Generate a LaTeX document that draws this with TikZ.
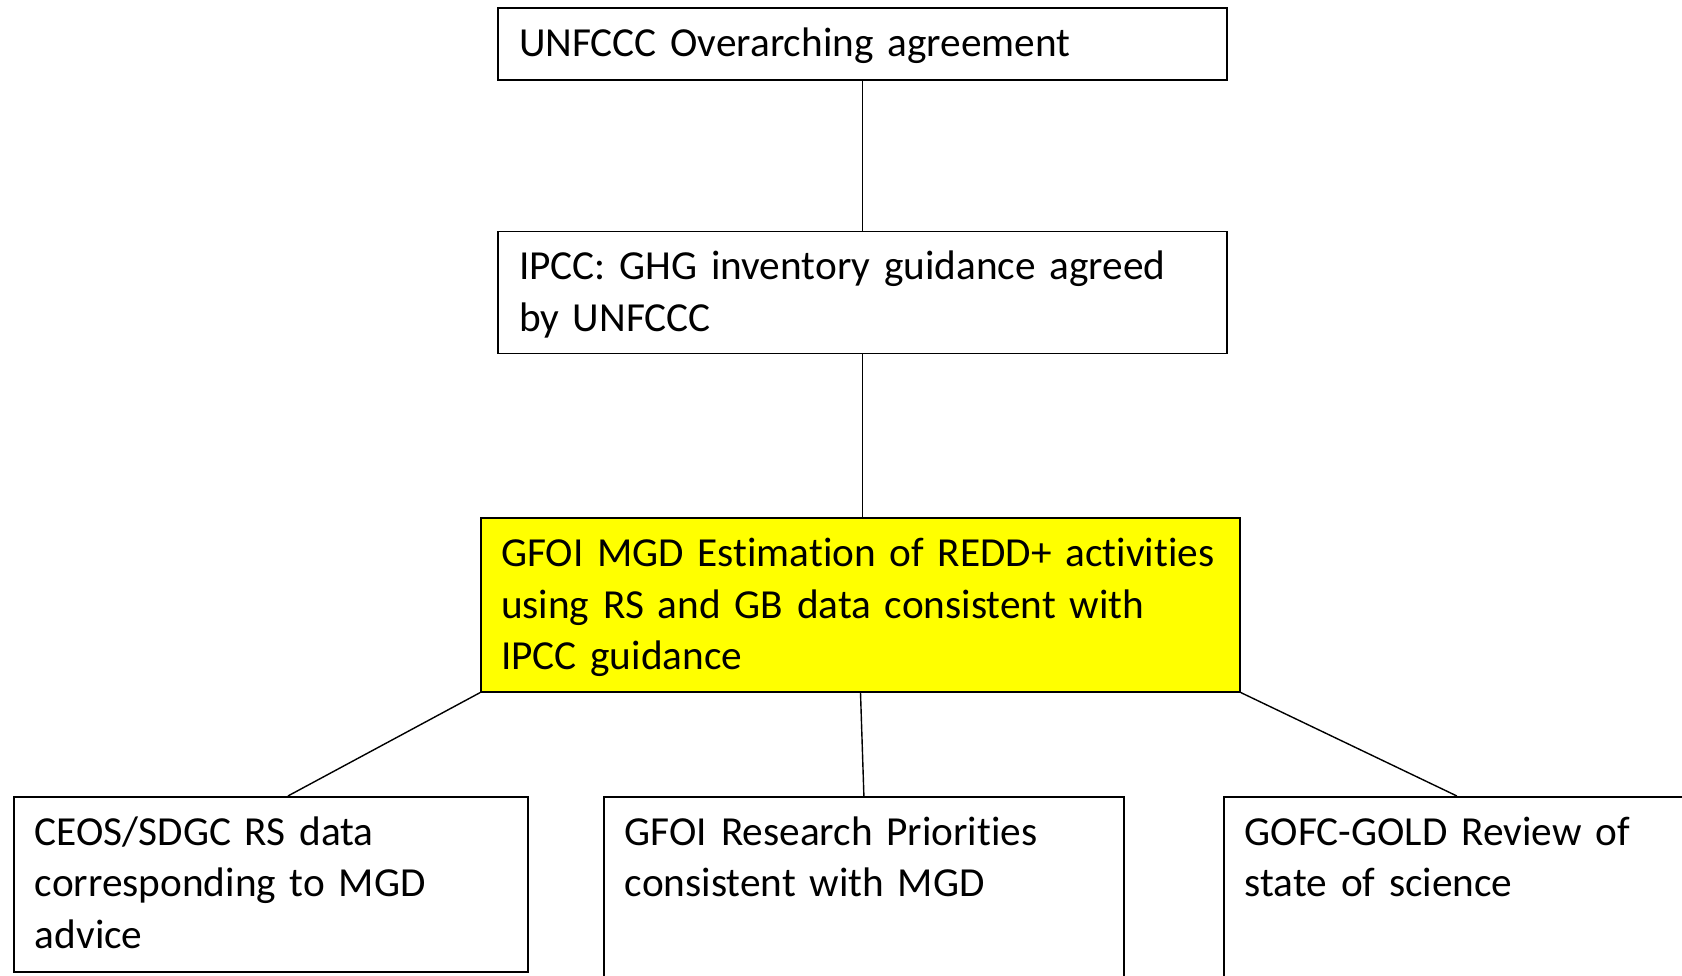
\documentclass[tikz,border=0pt]{standalone}
\usepackage{fontspec}
\setmainfont{Carlito}[Ligatures=NoCommon]
\usetikzlibrary{positioning, calc}
\definecolor{mgdyellow}{RGB}{255,255,0}

\begin{document}
\begin{tikzpicture}[x=1pt, y=1pt, node distance=0pt,
  agbox/.style 2 args={draw, line width=1.8pt, align=left, inner xsep=21pt, inner ysep=0pt,
    text height=48.5pt, text width=#1, text depth=#2, font=\fontsize{41.3}{51.5}\selectfont},
  link/.style={line width=1.4pt}]
\useasboundingbox (0,0) rectangle (1682,-975);
\clip (0,0) rectangle (1682,-975);

\node [agbox={687pt}{22.9pt}, anchor=north] (unfccc) at (862.5,-7.3) {UNFCCC Overarching agreement};
\node [agbox={687pt}{73.5pt}, below=150pt of unfccc] (ipcc) {IPCC: GHG inventory guidance agreed\\ by UNFCCC};
\node [agbox={719pt}{125pt}, inner xsep=20pt, fill=mgdyellow, below=163pt of ipcc, xshift=-2pt] (gfoi)
  {GFOI MGD Estimation of REDD+ activities\\ using RS and GB data consistent with\\ IPCC guidance};

\node [agbox={472pt}{126.5pt}, anchor=north west] (ceos) at (13,-796) {CEOS/SDGC RS data\\ corresponding to MGD\\ advice};
\node [agbox={478pt}{151.5pt}, anchor=north west] (res) at (603,-796) {GFOI Research Priorities\\ consistent with MGD};
\node [agbox={478pt}{151.5pt}, anchor=north west] (gofc) at (1223,-796) {GOFC-GOLD Review of\\ state of science};

\draw[link] (unfccc.south) -- (ipcc.north);
\draw[link] (ipcc.south) -- (ipcc.south |- gfoi.north);
\draw[link] (gfoi.south west) -- ([xshift=17pt]ceos.north);
\draw[link] (gfoi.south) -- (res.north);
\draw[link] (gfoi.south east) -- ([xshift=-27pt]gofc.north);
\end{tikzpicture}
\end{document}
